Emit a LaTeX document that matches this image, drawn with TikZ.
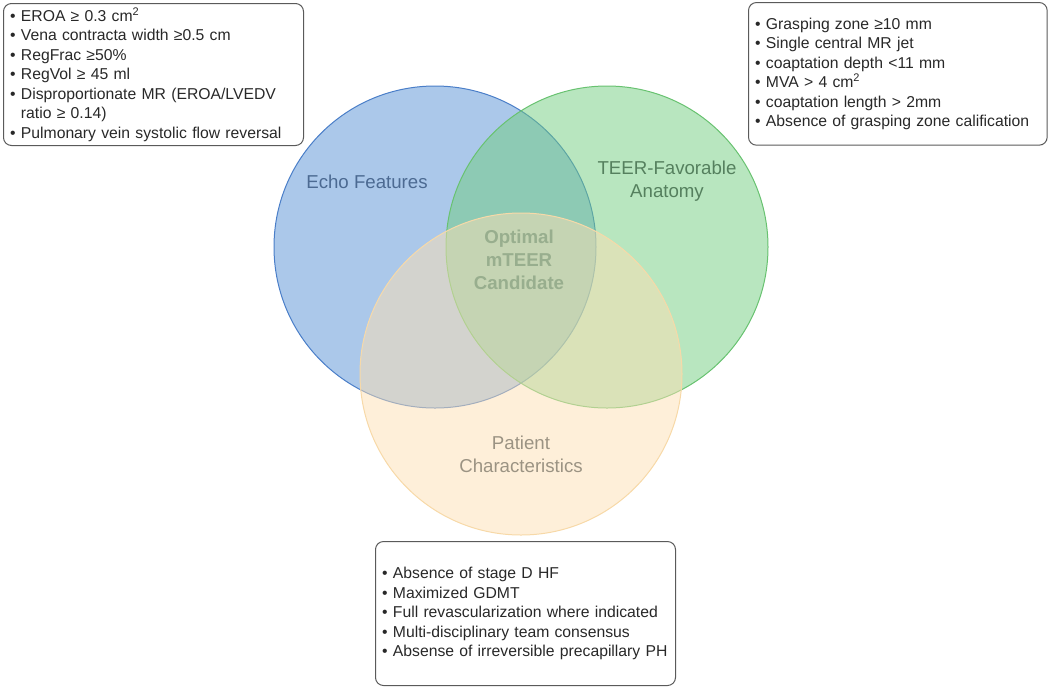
\documentclass[tikz,border=0pt]{standalone}
\usepackage{fontspec}
\setmainfont{Liberation Sans}
\definecolor{echoFill}{RGB}{87,145,213}
\definecolor{echoLine}{RGB}{74,126,200}
\definecolor{teerFill}{RGB}{113,205,127}
\definecolor{teerLine}{RGB}{104,194,112}
\definecolor{patFill}{RGB}{253,223,179}
\definecolor{patLine}{RGB}{247,217,168}
\definecolor{boxLine}{RGB}{90,90,90}
\definecolor{echoText}{RGB}{76,106,146}
\definecolor{teerText}{RGB}{85,128,94}
\definecolor{optText}{RGB}{152,174,142}
\definecolor{patText}{RGB}{155,147,131}
\definecolor{listText}{RGB}{40,40,40}
\newcommand{\bul}{\textbullet\ }
\tikzset{
  venn/.style={circle, minimum size=241.5pt, inner sep=0pt, line width=0.75pt, fill opacity=0.5},
  infobox/.style={draw=boxLine, rounded corners=6pt, line width=0.75pt, anchor=north west, align=left,
    text=listText, font=\fontsize{11.8}{14.65}\selectfont, inner ysep=0pt, inner xsep=5pt},
  vennlabel/.style={align=center, font=\fontsize{14}{17.25}\selectfont}
}

\begin{document}
\begin{tikzpicture}[x=0.75pt,y=-0.75pt]
\useasboundingbox (0,0) rectangle (1050,687);

\node[venn, fill=echoFill, draw=echoLine] (echo) at (435,247) {}; % Echo
\node[venn, fill=teerFill, draw=teerLine] (teer) at (607,247) {}; % TEER
\node[venn, fill=patFill, draw=patLine] (patient) at (521,374) {}; % Patient

\node[vennlabel, text=echoText] (echoLbl) at (367,182) {Echo Features};
\node[vennlabel, text=teerText] (teerLbl) at (667,181) {TEER-Favorable\\Anatomy};
\node[vennlabel, text=optText, font=\fontsize{14}{17.25}\selectfont\bfseries] (optLbl) at (519,260) {Optimal\\mTEER\\Candidate};
\node[vennlabel, text=patText] (patLbl) at (521,454) {Patient\\Characteristics};

\node[infobox, text width=215pt, minimum height=106.5pt] (echoBox) at (3,3) {%
\bul EROA ≥ 0.3 cm\textsuperscript{2}\\
\bul Vena contracta width ≥0.5 cm\\
\bul RegFrac ≥50\%\\
\bul RegVol ≥ 45 ml\\
\bul Disproportionate MR (EROA/LVEDV\\
\phantom{\bul}ratio ≥ 0.14)\\
\bul Pulmonary vein systolic flow reversal};

\node[infobox, text width=214pt, minimum height=107pt] (teerBox) at (748,2) {%
\bul Grasping zone ≥10 mm\\
\bul Single central MR jet\\
\bul coaptation depth <11 mm\\
\bul MVA > 4 cm\textsuperscript{2}\\
\bul coaptation length > 2mm\\
\bul Absence of grasping zone calification};

\node[infobox, text width=215pt, minimum height=108pt] (patBox) at (375,541) {%
\bul Absence of stage D HF\\
\bul Maximized GDMT\\
\bul Full revascularization where indicated\\
\bul Multi-disciplinary team consensus\\
\bul Absense of irreversible precapillary PH};

\end{tikzpicture}
\end{document}
